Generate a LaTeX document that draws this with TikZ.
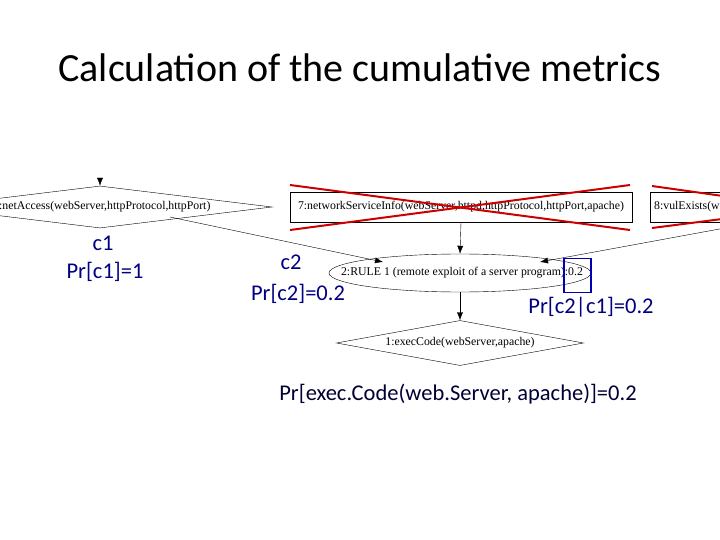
\documentclass[tikz,border=0pt]{standalone}
\usepackage{fontspec}
\setmainfont{Carlito}
\newfontfamily\gfont{Liberation Serif}
\usetikzlibrary{shapes.geometric,arrows.meta}
\begin{document}
\begin{tikzpicture}[x=1pt,y=-1pt,
  gtxt/.style={font=\gfont\fontsize{11.8}{13}\selectfont},
  arr/.style={-{Latex[length=8pt,width=6pt]},thin},
  lbl/.style={text=blue!50!black,font=\fontsize{22.5}{26}\selectfont},
  cross/.style={red!80!black,line width=2pt}]
\clip (0,0) rectangle (720,540);
\useasboundingbox (0,0) rectangle (720,540);
\node (title) at (360,68) {\fontsize{40}{46}\selectfont Calculation of the cumulative metrics};
\node[draw,diamond,minimum width=344pt,minimum height=42pt,inner sep=0pt] (d1) at (100,207) {};
\node[gtxt,anchor=west,inner sep=0pt] (d1t) at (-1,207) {:netAccess(webServer,httpProtocol,httpPort)};
\coordinate (d1top) at (100,180);
\draw[arr] (d1top) -- (d1.north);
\node[draw,minimum width=342pt,minimum height=30pt,inner sep=0pt,gtxt] (b7) at (461,207) {7:networkServiceInfo(webServer,httpd,httpProtocol,httpPort,apache)};
\node[draw,minimum width=160pt,minimum height=30pt,inner sep=0pt,anchor=west] (b8) at (650,207) {};
\node[gtxt,anchor=west,inner sep=0pt] (b8t) at (654,207) {8:vulExists(w};
\node[draw,ellipse,minimum width=262pt,minimum height=38pt,inner sep=0pt] (r2) at (460,273) {};
\node[gtxt] (r2t) at (462,273) {2:RULE 1 (remote exploit of a server program):0.2};
\node[draw,diamond,minimum width=247pt,minimum height=45pt,inner sep=0pt] (e1) at (460,343) {};
\node[gtxt] (e1t) at (460,343) {1:execCode(webServer,apache)};
\coordinate (d1o) at (170,217);
\coordinate (b8o) at (725,228);
\draw[arr] (d1o) -- (383,262);
\draw[arr] (b7.south) -- (r2.north);
\draw[arr] (b8o) -- (540,262);
\draw[arr] (r2.south) -- (e1.north);
\draw[cross] (290,185) -- (630,230);
\draw[cross] (290,230) -- (630,185);
\draw[cross] (652,186) -- (730,197);
\draw[cross] (652,228) -- (730,218);
\node[draw=blue!70!black,line width=1.2pt,minimum width=27pt,minimum height=34pt,inner sep=0pt] (hl) at (577.5,275.5) {};
\node[lbl] (c1) at (103,243) {c1};
\node[lbl] (p1) at (105,272) {Pr[c1]=1};
\node[lbl] (c2) at (291,262) {c2};
\node[lbl] (p2) at (298,294) {Pr[c2]=0.2};
\node[lbl] (p21) at (591,307) {Pr[c2|c1]=0.2};
\node[lbl,text=black!80!blue] (pe) at (458,394) {Pr[exec.Code(web.Server, apache)]=0.2};
\end{tikzpicture}
\end{document}
